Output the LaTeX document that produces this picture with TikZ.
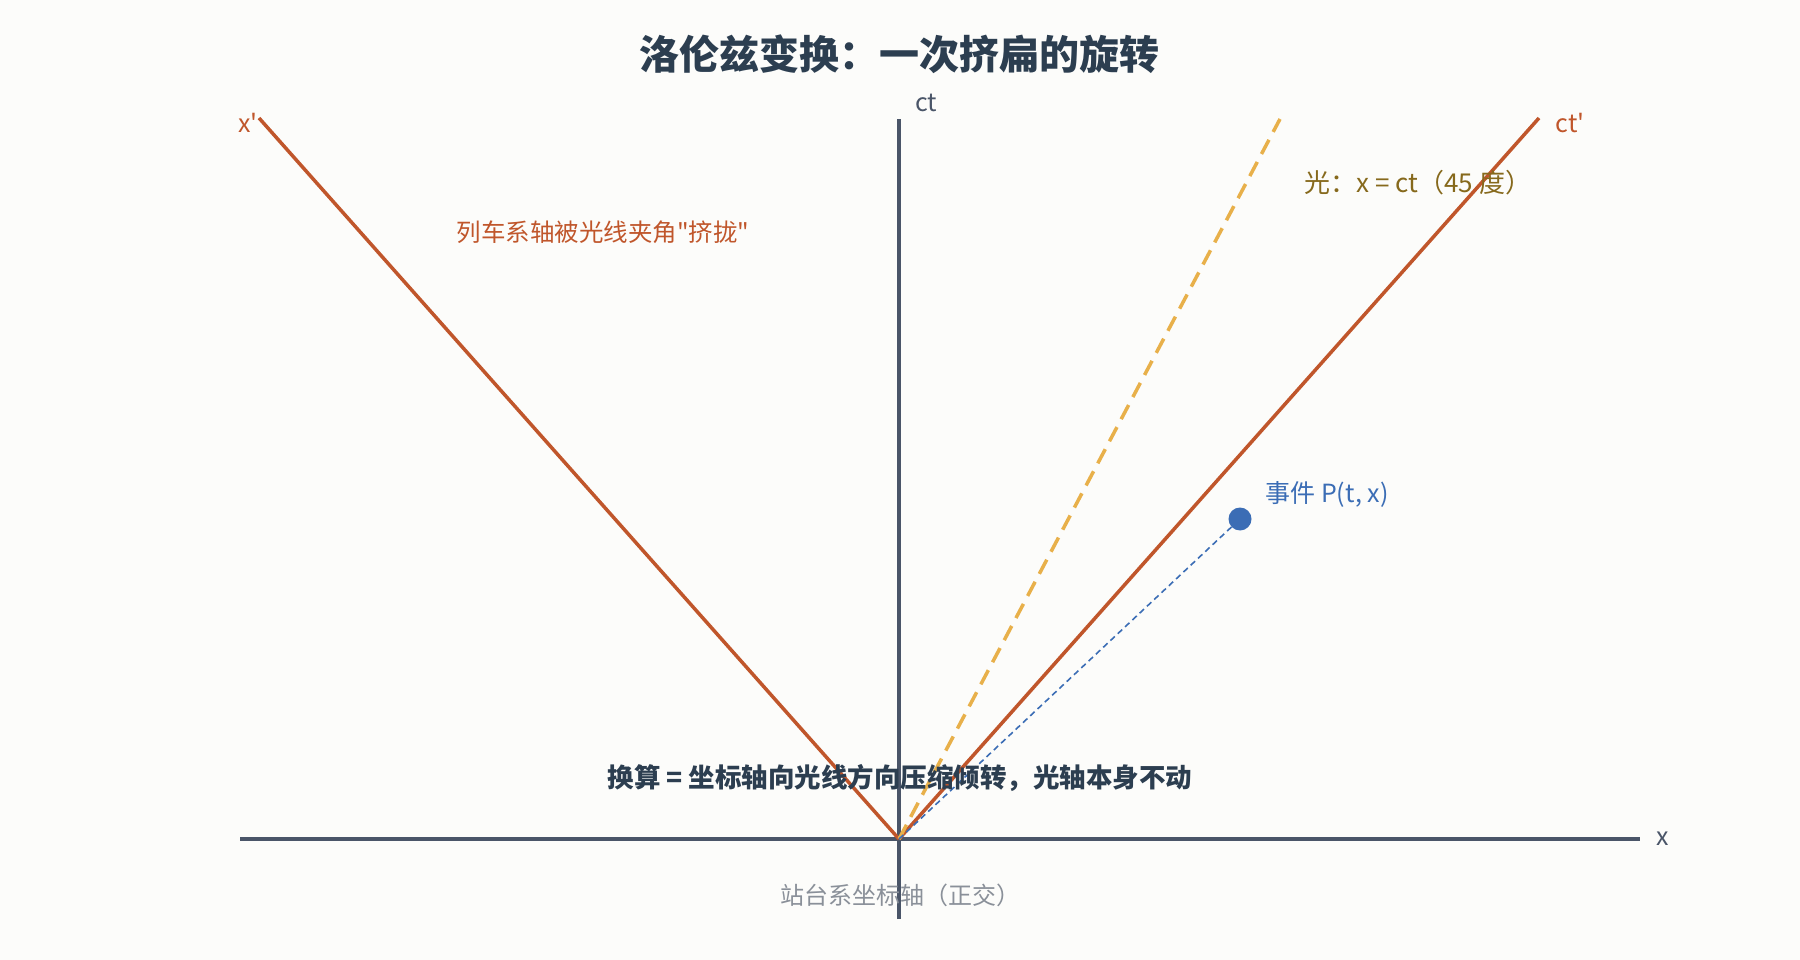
\documentclass[tikz,border=0pt]{standalone}
\usepackage{fontspec}
\setmainfont{Noto Sans CJK SC}[Ligatures=TeXOff]
\definecolor{bgwhite}{HTML}{FCFCFA}
\definecolor{axisgray}{HTML}{4A5568}
\definecolor{trainred}{HTML}{C0562B}
\definecolor{lightgold}{HTML}{E8B04A}
\definecolor{lightbrown}{HTML}{86691C}
\definecolor{eventblue}{HTML}{3B6DB5}
\definecolor{titledark}{HTML}{2C3E50}
\definecolor{notegray}{HTML}{8A9099}
\begin{document}
\begin{tikzpicture}[x=1pt, y=-1pt,
    axis/.style={draw=axisgray, line width=3.5pt},
    trainaxis/.style={draw=trainred, line width=3.5pt},
    lightray/.style={draw=lightgold, line width=3.5pt, dash pattern=on 16pt off 9pt},
    lbl/.style={font=\fontsize{25}{30}\selectfont}]
    \fill[bgwhite] (0,0) rectangle (1800,960);
    \useasboundingbox (0,0) rectangle (1800,960);
    % Ursprung und Endpunkte
    \coordinate (O) at (899,839);
    \coordinate (xL) at (240,839);
    \coordinate (xR) at (1640,839);
    \coordinate (ctB) at (899,919);
    \coordinate (ctT) at (899,119);
    \coordinate (xsEnd) at (259,118);
    \coordinate (ctsEnd) at (1539,118);
    \coordinate (lightEnd) at (1280,119);
    % Station
    \draw[axis] (xL) -- (xR);
    \draw[axis] (ctB) -- (ctT);
    \node[lbl, text=axisgray] (xlab) at (1663,839) {x};
    \node[lbl, text=axisgray] (ctlab) at (926,103) {ct};
    % Zug
    \draw[trainaxis] (O) -- (xsEnd);
    \draw[trainaxis] (O) -- (ctsEnd);
    \node[lbl, text=trainred] (xslab) at (248,123) {x'};
    \node[lbl, text=trainred] (ctslab) at (1570,123) {ct'};
    % Licht
    \draw[lightray] (O) -- (lightEnd);
    \node[lbl, font=\fontsize{26}{30}\selectfont, text=lightbrown, anchor=west] (lightlab) at (1301,183) {光：x = ct（45 度）};
    % Ereignis
    \node[circle, fill=eventblue, inner sep=0pt, minimum size=23pt] (P) at (1240,519) {};
    \draw[eventblue, line width=1.6pt, dash pattern=on 6pt off 4pt] (O) -- (P);
    \node[lbl, text=eventblue, anchor=west] (Plab) at (1262,494) {事件 P(t, x)};
    % Texte
    \node[font=\bfseries\fontsize{40}{48}\selectfont, text=titledark] (title) at (899,54) {洛伦兹变换：一次挤扁的旋转};
    \node[lbl, font=\fontsize{24.5}{30}\selectfont, text=trainred] (squeeze) at (603,232) {列车系轴被光线夹角"挤拢"};
    \node[font=\bfseries\fontsize{26.5}{30}\selectfont, text=titledark] (rule) at (900,778) {换算 = 坐标轴向光线方向压缩倾转，光轴本身不动};
    \node[lbl, font=\fontsize{24}{30}\selectfont, text=notegray] (station) at (900,895) {站台系坐标轴（正交）};
\end{tikzpicture}
\end{document}
